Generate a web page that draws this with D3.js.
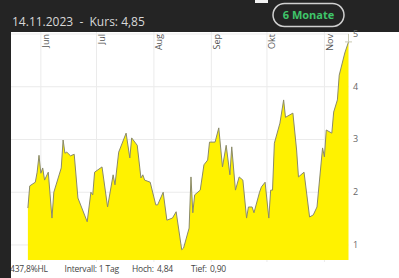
<!DOCTYPE html>
<html>
  <head>
    <meta charset="utf-8" />
    <title>Kurs 6 Monate</title>
    <script src="https://cdn.jsdelivr.net/npm/d3@7"></script>
    <style>
      body { margin: 0; background: #242424; }
      svg { display: block; }
    </style>
  </head>
  <body>
    <script>
      // Kursverlauf
      const dates = [
        "2023-05-25", "2023-05-26", "2023-05-29", "2023-05-30", "2023-05-31",
        "2023-06-01", "2023-06-02", "2023-06-03", "2023-06-05", "2023-06-07",
        "2023-06-08", "2023-06-12", "2023-06-13", "2023-06-14", "2023-06-15",
        "2023-06-17", "2023-06-19", "2023-06-21", "2023-06-26", "2023-06-28",
        "2023-06-29", "2023-06-30", "2023-07-04", "2023-07-07", "2023-07-10",
        "2023-07-11", "2023-07-13", "2023-07-17", "2023-07-19", "2023-07-20",
        "2023-07-23", "2023-07-25", "2023-07-26", "2023-07-27", "2023-07-30",
        "2023-08-02", "2023-08-03", "2023-08-06", "2023-08-08", "2023-08-11",
        "2023-08-13", "2023-08-16", "2023-08-17", "2023-08-20", "2023-08-21",
        "2023-08-22", "2023-08-23", "2023-08-26", "2023-08-28", "2023-08-30",
        "2023-08-31", "2023-09-03", "2023-09-05", "2023-09-07", "2023-09-09",
        "2023-09-11", "2023-09-12", "2023-09-14", "2023-09-16", "2023-09-18",
        "2023-09-20", "2023-09-21", "2023-09-23", "2023-09-24", "2023-09-27",
        "2023-09-28", "2023-09-30", "2023-10-02", "2023-10-03", "2023-10-04",
        "2023-10-05", "2023-10-08", "2023-10-10", "2023-10-11", "2023-10-15",
        "2023-10-17", "2023-10-18", "2023-10-21", "2023-10-24", "2023-10-26",
        "2023-10-28", "2023-10-31", "2023-11-01", "2023-11-02", "2023-11-05",
        "2023-11-06", "2023-11-08", "2023-11-09", "2023-11-12", "2023-11-14"
      ];
      const kurs = [
        1.70, 2.12, 2.19, 2.38, 2.70,
        2.36, 2.46, 2.23, 2.38, 1.51,
        2.00, 2.46, 2.99, 2.74, 2.76,
        2.69, 2.72, 1.89, 1.44, 2.00,
        1.95, 2.38, 2.48, 1.72, 2.33,
        2.14, 2.76, 3.12, 2.65, 3.03,
        2.89, 2.27, 2.33, 2.23, 2.19,
        1.76, 1.76, 2.00, 1.47, 1.51,
        1.63, 0.91, 0.94, 1.32, 2.29,
        1.61, 1.95, 2.04, 2.52, 2.61,
        2.95, 2.95, 3.22, 2.48, 2.89,
        2.33, 2.86, 2.04, 2.29, 2.23,
        1.51, 1.72, 1.72, 1.61, 2.00,
        2.10, 2.19, 1.51, 2.04, 2.04,
        2.93, 3.31, 3.75, 3.42, 3.50,
        2.80, 2.29, 2.38, 1.53, 1.57,
        1.72, 2.84, 2.67, 3.18, 3.12,
        3.52, 3.75, 4.22, 4.64, 4.85
      ];
      const monthTicks = ["2023-06-01", "2023-07-01", "2023-08-01", "2023-09-01", "2023-10-01", "2023-11-01"];
      const monthLabels = ["Jun", "Jul", "Aug", "Sep", "Okt", "Nov"];
      const yTicks = [1, 2, 3, 4, 5];
      const titleText = "14.11.2023  -  Kurs: 4,85";
      const rangeLabel = "6 Monate";
      const footer = [
        { x: 10, t: "437,8%HL" },
        { x: 64.5, t: "Intervall: 1 Tag" },
        { x: 132, t: "Hoch:" },
        { x: 157, t: "4,84" },
        { x: 191, t: "Tief:" },
        { x: 210, t: "0,90" }
      ];

      const w = 399;
      const h = 278;
      const parse = d3.timeParse("%Y-%m-%d");
      const data = dates.map((d, i) => ({ date: parse(d), v: kurs[i] }));

      const x = d3.scaleTime()
        .domain([parse("2023-05-14"), parse("2023-11-14")])
        .range([7.5, 348.5]);
      const y = d3.scaleLinear().domain([0.715, 5]).range([260, 34]);

      const svg = d3.select("body").append("svg")
        .attr("width", w)
        .attr("height", h)
        .style("font-family", "'Open Sans', sans-serif");

      // dunkler Hintergrund
      svg.append("rect").attr("width", w).attr("height", h).attr("fill", "#242424");
      svg.append("rect").attr("x", 255).attr("y", 0).attr("width", 13).attr("height", 3).attr("fill", "#f2f2f2");

      svg.append("text")
        .attr("x", 12).attr("y", 26)
        .attr("fill", "#d8d8d8")
        .style("font-size", "12px")
        .style("white-space", "pre")
        .text(titleText);

      // Button
      svg.append("rect")
        .attr("x", 273).attr("y", 3.5)
        .attr("width", 71).attr("height", 23)
        .attr("rx", 11.5)
        .attr("fill", "#242424")
        .attr("stroke", "#d0d0d0")
        .attr("stroke-width", 1.5);
      svg.append("text")
        .attr("x", 308.5).attr("y", 19)
        .attr("text-anchor", "middle")
        .attr("fill", "#3fc46a")
        .style("font-size", "11px")
        .style("font-weight", "bold")
        .text(rangeLabel);

      // Chartfläche
      svg.append("rect").attr("x", 11).attr("y", 32).attr("width", w - 11).attr("height", h - 32).attr("fill", "#fff");

      svg.append("g").selectAll("line").data(yTicks).enter().append("line")
        .attr("x1", 11).attr("x2", 348.5)
        .attr("y1", d => y(d)).attr("y2", d => y(d))
        .attr("stroke", "#ebebeb");

      svg.append("g").selectAll("line").data(monthTicks).enter().append("line")
        .attr("x1", d => x(parse(d))).attr("x2", d => x(parse(d)))
        .attr("y1", 32).attr("y2", 262)
        .attr("stroke", "#ebebeb");

      const area = d3.area()
        .x(d => x(d.date))
        .y0(y(0.715))
        .y1(d => y(d.v));
      const line = d3.line()
        .x(d => x(d.date))
        .y(d => y(d.v));

      svg.append("path").datum(data).attr("d", area).attr("fill", "#fff200");
      svg.append("path").datum(data).attr("d", line)
        .attr("fill", "none").attr("stroke", "#8a8a6a").attr("stroke-width", 1);

      // Marker am Ende
      const last = data[data.length - 1];
      svg.append("line")
        .attr("x1", x(last.date) - 3.5).attr("x2", x(last.date) + 3.5)
        .attr("y1", y(last.v)).attr("y2", y(last.v))
        .attr("stroke", "#c8c8b0");
      svg.append("line")
        .attr("x1", x(last.date)).attr("x2", x(last.date))
        .attr("y1", y(last.v) - 8).attr("y2", y(last.v))
        .attr("stroke", "#c8c8b0");

      // Monate
      svg.append("g").selectAll("text").data(monthTicks).enter().append("text")
        .attr("transform", d => "translate(" + (x(parse(d)) + 8.5) + ",34) rotate(-90)")
        .attr("text-anchor", "end")
        .attr("fill", "#555")
        .style("font-size", "9px")
        .text((d, i) => monthLabels[i]);

      // y-Achse rechts
      svg.append("g").selectAll("text").data(yTicks).enter().append("text")
        .attr("x", 353)
        .attr("y", d => y(d) + 3)
        .attr("fill", "#666")
        .style("font-size", "9px")
        .text(d => d);

      svg.append("g").selectAll("text").data(footer).enter().append("text")
        .attr("x", d => d.x).attr("y", 272)
        .attr("fill", "#444")
        .style("font-size", "8.5px")
        .style("letter-spacing", "-0.2px")
        .text(d => d.t);

      // linker dunkler Rand überdeckt den Textanfang
      svg.append("rect").attr("x", 0).attr("y", 32).attr("width", 11).attr("height", h - 32).attr("fill", "#242424");
    </script>
  </body>
</html>
